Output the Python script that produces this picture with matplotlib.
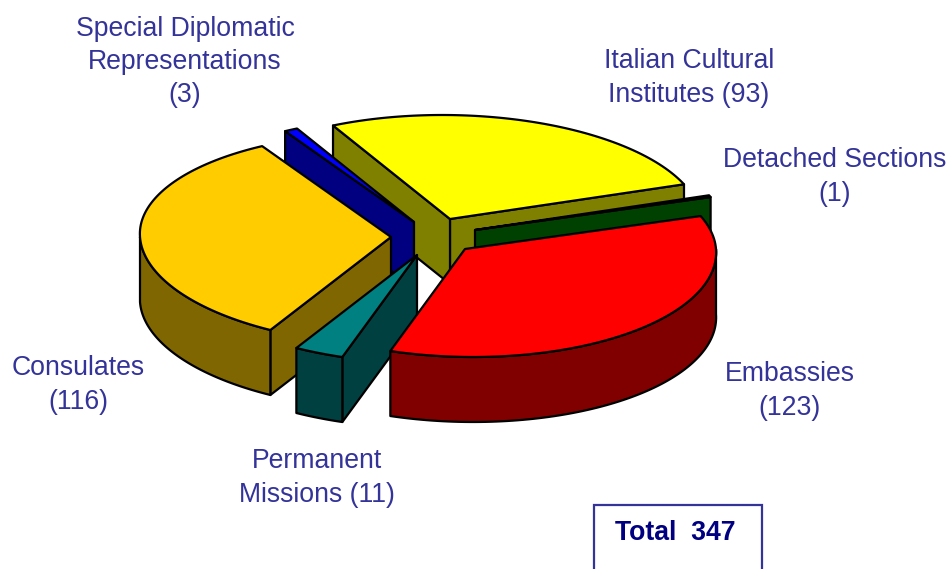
import numpy as np
import matplotlib
matplotlib.use('Agg')
import matplotlib.pyplot as plt
from matplotlib.patches import Polygon, Rectangle

# slices, counter-clockwise from the start angle
categories = ['Italian Cultural Institutes', 'Special Diplomatic Representations',
              'Consulates', 'Permanent Missions', 'Embassies', 'Detached Sections']
counts = [93, 3, 116, 11, 123, 1]
total = 347

top_colors = ['#FFFF00', '#0000FF', '#FFCC00', '#008080', '#FF0000', '#008000']
side_colors = ['#808000', '#000080', '#806600', '#004040', '#800000', '#004000']

# where the point of each exploded slice sits, in pixels
apex_x = [450, 414, 391, 417, 465, 475]
apex_y = [219, 222, 237, 255, 249, 230]

draw_order = [0, 1, 5, 2, 3, 4]

# pie shape, the far half is squashed a little for perspective
start_angle = 19.5
radius_x = 251
radius_y_front = 108
radius_y_back = 104
skew = 0.075
depth = 65
edge_w = 1.6

plt.rcParams['font.family'] = ['Liberation Sans', 'DejaVu Sans']
text_color = '#333399'


def rim(cx, cy, a, b, n=90):
    t = np.radians(np.linspace(a, b, n))
    s = np.sin(t)
    dy = -np.where(s > 0, radius_y_back, radius_y_front) * s
    dx = radius_x * np.cos(t) + skew * dy
    return cx + dx, cy + dy


def face(ax, xs, ys, color):
    ax.add_patch(Polygon(np.column_stack([xs, ys]), closed=True, facecolor=color,
                         edgecolor='black', linewidth=edge_w, joinstyle='round'))


def draw_slice(ax, cx, cy, a, b, top, side):
    # side faces turned toward the viewer only
    if np.sin(np.radians(a - 90)) < 0:
        x, y = rim(cx, cy, a, a, 1)
        face(ax, [cx, x[0], x[0], cx], [cy, y[0], y[0] + depth, cy + depth], side)
    if np.sin(np.radians(b + 90)) < 0:
        x, y = rim(cx, cy, b, b, 1)
        face(ax, [cx, x[0], x[0], cx], [cy, y[0], y[0] + depth, cy + depth], side)

    # outer wall, front half of the ellipse
    ranges = [(max(a, 180), min(b, 360)), (max(a, 540), min(b, 720))]
    for lo, hi in ranges:
        if hi > lo:
            x, y = rim(cx, cy, lo, hi)
            face(ax, np.r_[x, x[::-1]], np.r_[y, y[::-1] + depth], side)

    x, y = rim(cx, cy, a, b)
    face(ax, np.r_[cx, x], np.r_[cy, y], top)


# slice angles come from the counts
sweeps = np.array(counts) / sum(counts) * 360
ends = start_angle + np.cumsum(sweeps)
starts = ends - sweeps

fig = plt.figure(figsize=(9.5, 5.69), dpi=100)
ax = fig.add_axes([0, 0, 1, 1])
ax.set_xlim(0, 950)
ax.set_ylim(569, 0)
ax.axis('off')

for i in draw_order:
    draw_slice(ax, apex_x[i], apex_y[i], starts[i], ends[i], top_colors[i], side_colors[i])

labels = [
    ('Special Diplomatic\nRepresentations\n(3)', 185, 62),
    ('Italian Cultural\nInstitutes (93)', 689, 78),
    ('Detached Sections\n(1)', 835, 177),
    ('Embassies\n(123)', 790, 391),
    ('Permanent\nMissions (11)', 317, 478),
    ('Consulates\n(116)', 78, 385),
]
for txt, x, y in labels:
    ax.text(x, y, txt, color=text_color, fontsize=19.2, ha='center', va='center',
            linespacing=1.37)

# total box runs off the bottom of the picture
ax.add_patch(Rectangle((593.5, 504.5), 168, 80, facecolor='white',
                       edgecolor=text_color, linewidth=1.6))
ax.text(675.5, 532.5, f'Total  {total}', color='#000080', fontsize=19.2, fontweight='bold',
        ha='center', va='center')

fig.savefig('out.png', dpi=100)
